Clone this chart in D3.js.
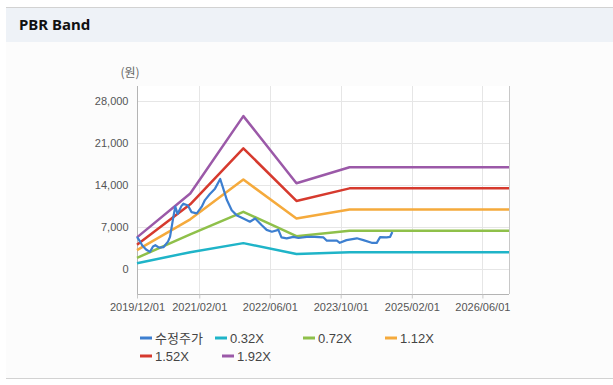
<!DOCTYPE html>
<html>
<head>
<meta charset="utf-8">
<script src="https://cdn.jsdelivr.net/npm/d3@7/dist/d3.min.js"></script>
<style>
  html, body { margin: 0; padding: 0; background: #ffffff; }
  svg { display: block; }
</style>
</head>
<body>
<svg id="chart" width="613" height="385"></svg>
<script>
// ---------- data ----------
const title = "PBR Band";
const unitLabel = "(원)";
const yTicks = [0, 7000, 14000, 21000, 28000];
const xTickLabels = ["2019/12/01", "2021/02/01", "2022/06/01", "2023/10/01", "2025/02/01", "2026/06/01"];

// adjusted price (수정주가)
const priceDates = [
  "2019-12-01","2019-12-20","2020-01-05","2020-02-01","2020-02-28","2020-03-20","2020-04-05","2020-05-01",
  "2020-06-01","2020-07-01","2020-07-15","2020-08-07","2020-08-20","2020-09-05","2020-10-01","2020-10-15",
  "2020-11-15","2020-12-10","2021-01-15","2021-02-18","2021-03-12","2021-04-15","2021-05-20","2021-06-25",
  "2021-07-15","2021-08-10","2021-09-12","2021-10-15","2021-12-01","2022-01-15","2022-02-20","2022-04-05",
  "2022-05-10","2022-06-15","2022-07-30","2022-08-20","2022-09-25","2022-11-10","2022-12-15","2023-02-10",
  "2023-04-05","2023-06-05","2023-06-28","2023-09-05","2023-09-25","2023-11-10","2024-01-20","2024-03-05",
  "2024-05-01","2024-06-05","2024-06-28","2024-08-12","2024-09-05","2024-09-20"
];
const priceValues = [
  5400,4700,4000,3300,2900,3800,4000,3600,
  3700,4600,5400,8700,10400,9200,10500,10900,
  10600,9500,9300,10400,11500,12500,13400,15000,
  13500,11500,9800,9000,8450,7900,8450,7350,
  6550,6250,6550,5300,5150,5400,5200,5400,
  5400,5300,4750,4750,4400,4850,5150,4850,
  4400,4400,5350,5300,5400,6200
];

// PBR band lines
const bandDates = ["2019-12-01","2020-12-01","2021-12-01","2022-12-01","2023-12-01","2026-12-01"];
const band032 = [1000, 2850, 4350, 2550, 2820, 2820];
const band072 = [1900, 5800, 9550, 5500, 6400, 6400];
const band112 = [3200, 8300, 14900, 8450, 9950, 9950];
const band152 = [4100, 10800, 20100, 11350, 13450, 13450];
const band192 = [5300, 12600, 25450, 14300, 16950, 16950];

const seriesNames = ["수정주가", "0.32X", "0.72X", "1.12X", "1.52X", "1.92X"];
const seriesColors = ["#3d7fd0", "#1fb4c8", "#8fc04a", "#f5aa3c", "#d63a2e", "#9b59a8"];

// ---------- drawing ----------
const svg = d3.select("#chart");
const parse = d3.timeParse("%Y-%m-%d");
const parseTick = d3.timeParse("%Y/%m/%d");

// header
svg.append("rect").attr("x", 0).attr("y", 0).attr("width", 613).attr("height", 385).attr("fill", "#ffffff");
svg.append("rect").attr("x", 6).attr("y", 8).attr("width", 607).attr("height", 371).attr("fill", "#fcfcfc");
svg.append("rect").attr("x", 6).attr("y", 8).attr("width", 607).attr("height", 34).attr("fill", "#eef2f7");
svg.append("line").attr("x1", 6).attr("x2", 613).attr("y1", 7.5).attr("y2", 7.5).attr("stroke", "#d2d2d2");
svg.append("line").attr("x1", 6).attr("x2", 613).attr("y1", 378.5).attr("y2", 378.5).attr("stroke", "#d2d2d2");
svg.append("text").attr("x", 19).attr("y", 30).text(title)
  .attr("font-family", "'Noto Sans', sans-serif").attr("font-weight", "bold")
  .attr("font-size", 15).attr("fill", "#111");

const pLeft = 137, pRight = 509, pTop = 86, pBottom = 294;
const x = d3.scaleTime()
  .domain([parse("2019-12-01"), parse("2026-12-01")])
  .range([pLeft, pRight]);
const y = d3.scaleLinear()
  .domain([-4100, 30450])
  .range([pBottom, pTop]);

// plot background
svg.append("rect").attr("x", pLeft).attr("y", pTop).attr("width", pRight - pLeft).attr("height", pBottom - pTop).attr("fill", "#ffffff");

// grid
const xTickDates = xTickLabels.map(parseTick);
svg.append("g").selectAll("line").data(yTicks).join("line")
  .attr("x1", pLeft).attr("x2", pRight)
  .attr("y1", d => Math.round(y(d)) + 0.5).attr("y2", d => Math.round(y(d)) + 0.5)
  .attr("stroke", "#e6e6e6");
svg.append("g").selectAll("line").data(xTickDates.slice(1)).join("line")
  .attr("x1", d => Math.round(x(d)) + 0.5).attr("x2", d => Math.round(x(d)) + 0.5)
  .attr("y1", pTop).attr("y2", pBottom)
  .attr("stroke", "#e6e6e6");

// right border
svg.append("line").attr("x1", pRight + 0.5).attr("x2", pRight + 0.5).attr("y1", pTop).attr("y2", pBottom).attr("stroke", "#c8c8c8");

// axes
const yAxis = d3.axisLeft(y).tickValues(yTicks).tickSize(0).tickPadding(9).tickFormat(d3.format(","));
const gy = svg.append("g").attr("transform", `translate(${pLeft + 0.5},0)`).call(yAxis);
gy.select(".domain").attr("stroke", "#b4b4b4").attr("d", `M0,${pTop}V${pBottom}`);
gy.selectAll("text").attr("font-family", "'Liberation Sans', Arial, sans-serif").attr("font-size", 11).attr("fill", "#555");

const xAxis = d3.axisBottom(x).tickValues(xTickDates).tickSize(4).tickPadding(5).tickFormat(d3.timeFormat("%Y/%m/%d"));
const gx = svg.append("g").attr("transform", `translate(0,${pBottom + 0.5})`).call(xAxis);
gx.select(".domain").attr("stroke", "#b4b4b4").attr("d", `M${pLeft},0H${pRight}`);
gx.selectAll(".tick line").attr("stroke", "#c8c8c8");
gx.selectAll("text").attr("font-family", "'Liberation Sans', Arial, sans-serif").attr("font-size", 11).attr("fill", "#555");

// unit label
svg.append("text").attr("x", 130).attr("y", 77).attr("text-anchor", "middle").text(unitLabel)
  .attr("font-family", "'Noto Sans CJK KR', sans-serif").attr("font-size", 12).attr("fill", "#666");

// lines
const line = d3.line().x(d => x(d[0])).y(d => y(d[1]));
const bandSeries = [band032, band072, band112, band152, band192];
const plot = svg.append("g");
bandSeries.forEach((vals, i) => {
  const pts = bandDates.map((d, j) => [parse(d), vals[j]]);
  plot.append("path").datum(pts).attr("d", line)
    .attr("fill", "none").attr("stroke", seriesColors[i + 1]).attr("stroke-width", 2.5)
    .attr("stroke-linejoin", "round");
});
const pricePts = priceDates.map((d, j) => [parse(d), priceValues[j]]);
plot.append("path").datum(pricePts).attr("d", line)
  .attr("fill", "none").attr("stroke", seriesColors[0]).attr("stroke-width", 2.2)
  .attr("stroke-linejoin", "round");

// legend
const legendPos = [[140, 338], [215, 338], [303, 338], [385, 338], [140, 356], [222, 356]];
const lg = svg.append("g");
seriesNames.forEach((name, i) => {
  const [lx, ly] = legendPos[i];
  lg.append("line").attr("x1", lx).attr("x2", lx + 12).attr("y1", ly).attr("y2", ly)
    .attr("stroke", seriesColors[i]).attr("stroke-width", 3);
  lg.append("text").attr("x", lx + 15).attr("y", ly + 5).text(name)
    .attr("font-family", i === 0 ? "'Noto Sans CJK KR', sans-serif" : "'Liberation Sans', Arial, sans-serif")
    .attr("font-size", 13).attr("fill", "#444");
});
</script>
</body>
</html>
